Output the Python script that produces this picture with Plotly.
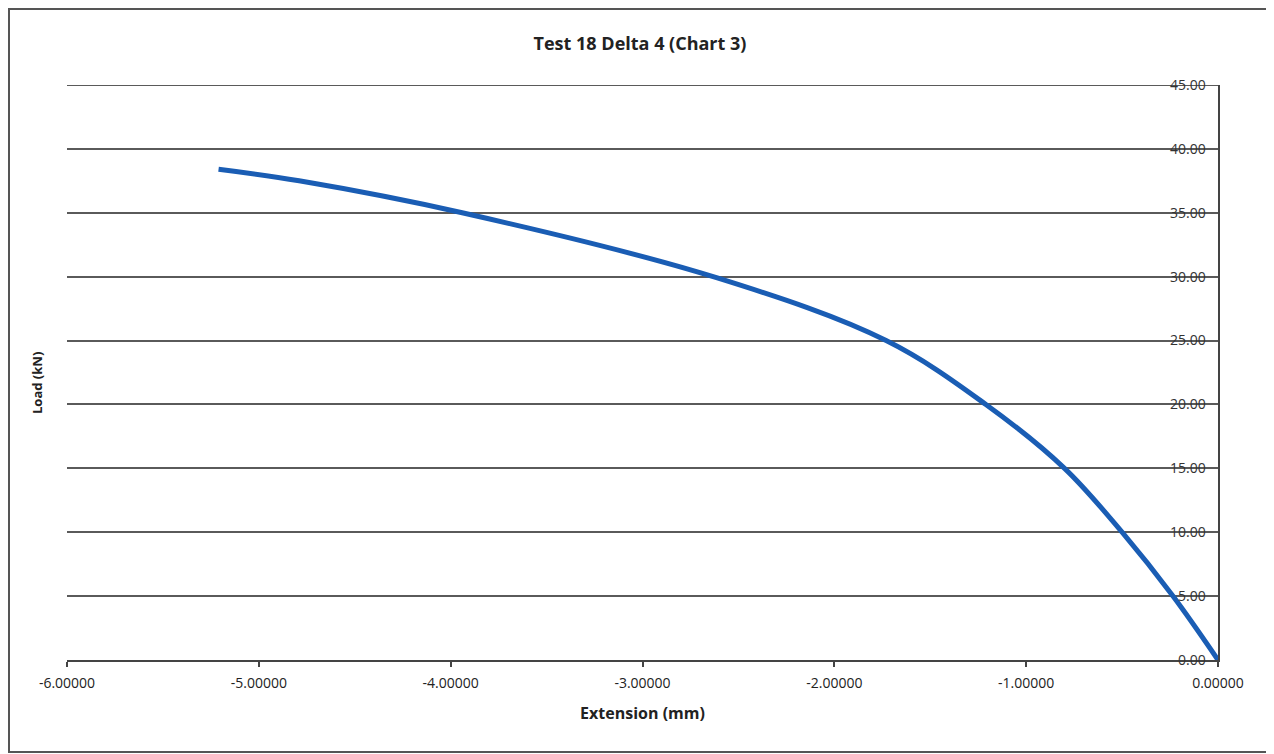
import plotly.graph_objects as go

extension_mm = [-5.21, -4.79, -3.94, -2.61, -1.73, -1.21, -0.80, -0.50, -0.235, 0.00]
load_kn = [38.4, 37.5, 35.0, 29.9, 25.0, 20.0, 15.0, 10.0, 5.0, 0.0]

x_ticks = [-6, -5, -4, -3, -2, -1, 0]
x_tick_labels = ["-6.00000", "-5.00000", "-4.00000", "-3.00000", "-2.00000", "-1.00000", "0.00000"]
y_ticks = [0, 5, 10, 15, 20, 25, 30, 35, 40, 45]
y_tick_labels = ["0.00", "5.00", "10.00", "15.00", "20.00", "25.00", "30.00", "35.00", "40.00", "45.00"]

FONT = "Open Sans, Liberation Sans, sans-serif"
W, H = 1274, 754
# page body adds an 8px offset; layout below is expressed in figure coordinates
L, R, T, B = 59, 64, 77, 102
PW, PH = W - L - R, H - T - B

fig = go.Figure()
fig.add_trace(go.Scatter(
    x=extension_mm, y=load_kn, mode="lines",
    line=dict(color="#1a5db4", width=5, shape="spline", smoothing=1.0),
    showlegend=False, hoverinfo="skip", cliponaxis=False,
))

fig.update_layout(
    width=W, height=H,
    paper_bgcolor="white", plot_bgcolor="white",
    margin=dict(l=L, r=R, t=T, b=B, autoexpand=False),
    font=dict(family=FONT, color="#222222", size=12),
    title=dict(text="<b>Test 18 Delta 4 (Chart 3)</b>", x=632 / W, xanchor="center",
               y=1 - 36 / H, yanchor="middle", font=dict(size=18, color="#222222")),
    xaxis=dict(
        range=[-6, 0], tickvals=x_ticks, ticktext=x_tick_labels,
        showgrid=False, zeroline=False,
        showline=True, linecolor="#444444", linewidth=2,
        ticks="outside", ticklen=5, tickcolor="#444444", tickwidth=2,
        ticklabelstandoff=4,
        tickfont=dict(size=14, color="#222222"),
        title=dict(text="<b>Extension (mm)</b>", font=dict(size=16, color="#222222"), standoff=17),
    ),
    yaxis=dict(
        range=[0, 45], tickvals=y_ticks, ticktext=y_tick_labels,
        side="right", ticklabelposition="inside", ticklabeloverflow="allow",
        ticklabelstandoff=12,
        showgrid=True, gridcolor="#5a5a5a", gridwidth=2,
        zeroline=False,
        showline=True, linecolor="#444444", linewidth=2,
        ticks="",
        tickfont=dict(size=14, color="#333333"),
    ),
    annotations=[dict(
        text="<b>Load (kN)</b>", textangle=-90, xref="paper", yref="paper",
        x=(29 - L) / PW, y=(652 - 375) / PH, xanchor="center", yanchor="middle",
        showarrow=False, font=dict(size=13, color="#222222"),
    )],
    shapes=[
        dict(type="line", xref="paper", yref="y", x0=0, x1=1, y0=45, y1=45,
             line=dict(color="#5a5a5a", width=2), layer="below"),
        dict(type="rect", xref="paper", yref="paper",
             x0=(1 - L) / PW, x1=(1261 - L) / PW,
             y0=(652 - 744) / PH, y1=(652 - 1) / PH,
             line=dict(color="#555555", width=2), fillcolor="rgba(0,0,0,0)", layer="below"),
    ],
)

fig.write_html("out.html")
